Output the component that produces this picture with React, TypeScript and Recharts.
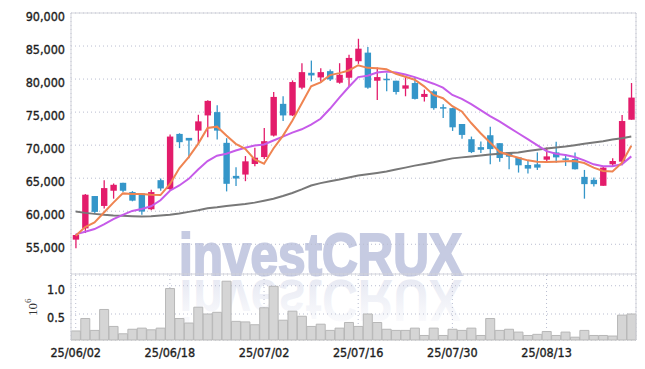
import React from 'react';
import {
  ComposedChart,
  BarChart,
  Bar,
  Line,
  XAxis,
  YAxis,
  CartesianGrid,
  ReferenceLine,
} from 'recharts';

const dates = [
  '25/06/02', '25/06/04', '25/06/05', '25/06/09', '25/06/10', '25/06/11', '25/06/12', '25/06/13', '25/06/16', '25/06/17',
  '25/06/18', '25/06/19', '25/06/20', '25/06/23', '25/06/24', '25/06/25', '25/06/26', '25/06/27', '25/06/30', '25/07/01',
  '25/07/02', '25/07/03', '25/07/04', '25/07/07', '25/07/08', '25/07/09', '25/07/10', '25/07/11', '25/07/14', '25/07/15',
  '25/07/16', '25/07/17', '25/07/18', '25/07/21', '25/07/22', '25/07/23', '25/07/24', '25/07/25', '25/07/28', '25/07/29',
  '25/07/30', '25/07/31', '25/08/01', '25/08/04', '25/08/05', '25/08/06', '25/08/07', '25/08/08', '25/08/11', '25/08/12',
  '25/08/13', '25/08/14', '25/08/18', '25/08/19', '25/08/20', '25/08/21', '25/08/22', '25/08/25', '25/08/26', '25/08/27',
];

const opens = [
  55700, 57400, 62300, 60800, 63100, 64300, 62900, 62700, 60300, 64700,
  63350, 71700, 71100, 72200, 74500, 75000, 70350, 65350, 65550, 67150,
  68200, 71450, 76250, 74500, 78700, 80950, 80250, 81200, 79450, 80200,
  82700, 84000, 79750, 80050, 79750, 78550, 79400, 77300, 78150, 75750,
  75600, 73200, 70900, 69700, 71500, 70300, 68900, 68150, 67000, 67100,
  67800, 68900, 68000, 67900, 65200, 64750, 63850, 67100, 67500, 73850,
];
const highs = [
  56500, 62600, 62300, 64700, 64200, 64300, 63050, 62700, 63250, 64950,
  71600, 71800, 71100, 74600, 76800, 76050, 71050, 66650, 68350, 69600,
  72600, 78050, 77400, 79800, 82400, 82800, 81650, 81450, 82400, 83700,
  86100, 84850, 81750, 80900, 79750, 80400, 80150, 78400, 78400, 76200,
  75650, 73200, 71300, 70550, 72800, 70300, 68900, 68150, 67600, 68900,
  69650, 70500, 68650, 68900, 66250, 65100, 66750, 68000, 74550, 79400,
];
const lows = [
  54400, 56700, 59650, 60400, 61900, 62900, 61500, 59450, 60150, 63100,
  63100, 69550, 68000, 70200, 71200, 70850, 63000, 63800, 64550, 66800,
  67900, 71300, 73650, 74400, 78450, 79650, 79450, 79700, 79300, 78800,
  82300, 78550, 76850, 78150, 77650, 77400, 76900, 76600, 75350, 74100,
  72150, 70950, 68800, 68800, 67100, 67500, 66350, 65850, 65700, 66250,
  67350, 67350, 66850, 66300, 61900, 63750, 63850, 66750, 66950, 73850,
];
const closes = [
  56400, 62500, 59900, 63500, 64000, 63100, 61600, 59950, 62900, 63450,
  71300, 70450, 70700, 73600, 76700, 72200, 64150, 64950, 67550, 68100,
  70600, 77300, 74500, 79550, 81050, 80550, 81050, 79950, 80650, 83200,
  84600, 78700, 80300, 79900, 78050, 79050, 77000, 77750, 75600, 75550,
  72700, 71550, 68950, 69300, 69400, 68050, 68250, 66950, 66450, 66600,
  68300, 68150, 67800, 66350, 64100, 64100, 66600, 67600, 73650, 77200,
];
// volume, millions of shares
const volumes = [
  0.2, 0.42, 0.21, 0.58, 0.28, 0.15, 0.23, 0.25, 0.22, 0.25,
  0.95, 0.42, 0.34, 0.62, 0.5, 0.53, 1.08, 0.37, 0.36, 0.31,
  0.61, 0.99, 0.39, 0.55, 0.46, 0.28, 0.32, 0.21, 0.25, 0.35,
  0.28, 0.5, 0.35, 0.23, 0.21, 0.21, 0.25, 0.12, 0.25, 0.12,
  0.23, 0.21, 0.25, 0.12, 0.42, 0.21, 0.23, 0.18, 0.12, 0.14,
  0.19, 0.12, 0.18, 0.09, 0.21, 0.12, 0.12, 0.11, 0.48, 0.5,
];
const ma5 = [
  56300, 57600, 58300, 59800, 61300, 62700, 62600, 62600, 62500, 62450,
  64100, 66500, 68200, 70200, 72600, 72800, 71450, 70200, 69450, 67850,
  67200, 69500, 71400, 73700, 76300, 78900, 79500, 80600, 80900, 81300,
  82100, 81700, 81650, 81500, 80800, 80350, 79900, 78900, 77600, 77100,
  75900, 75100, 73350, 71800, 70400, 69000, 68500, 68100, 67700, 67500,
  67450, 67500, 67550, 67600, 67300, 66600, 66100, 66000, 67300, 69900,
];
const ma20 = [
  56500, 56900, 57300, 58000, 58800, 59450, 60050, 60350, 60750, 61650,
  63100, 63900, 64900, 66300, 67600, 68400, 68700, 69200, 69600, 69950,
  70100, 70700, 71300, 71900, 72400, 73100, 74000, 75500, 77200, 78800,
  80300, 80500, 81000, 81150, 81000, 80700, 80300, 79800, 79300, 78700,
  77600, 77000, 76200, 75300, 74400, 73600, 72700, 71800, 70900, 70000,
  69100, 68700, 68500, 68200, 67700, 67100, 66800, 66800, 67100, 68300,
];
const ma60 = [
  59950, 59750, 59600, 59450, 59350, 59300, 59250, 59200, 59250, 59350,
  59450, 59650, 59900, 60150, 60450, 60600, 60800, 60950, 61100, 61300,
  61600, 61900, 62300, 62750, 63300, 63900, 64250, 64550, 64800, 65100,
  65400, 65600, 65800, 66000, 66300, 66600, 66900, 67150, 67400, 67700,
  68000, 68150, 68300, 68450, 68600, 68700, 68800, 68900, 69100, 69300,
  69500, 69650, 69800, 70000, 70200, 70400, 70600, 70850, 71050, 71300,
];
const priceTicks = [55000, 60000, 65000, 70000, 75000, 80000, 85000, 90000];
const volumeTicks = [0.5, 1.0];

const data = dates.map((date, i) => ({
  date,
  open: opens[i],
  high: highs[i],
  low: lows[i],
  close: closes[i],
  volume: volumes[i],
  ma5: ma5[i],
  ma20: ma20[i],
  ma60: ma60[i],
}));

const UP = '#e31c6b';
const DOWN = '#3596c9';
const GRID = '#b9bdd0';
const BORDER = '#d2d3da';
const MARK = '#c6cbe2';
const FONT = "'DejaVu Sans Condensed', 'Liberation Sans Narrow', 'Noto Sans', sans-serif";

const Candle = (props: any) => {
  const { x, y, width, height, payload } = props;
  const { open, close, high, low } = payload;
  const color = close >= open ? UP : DOWN;
  const top = Math.min(y, y + height);
  const h = Math.abs(height);
  const span = high - low || 1;
  const yOf = (v: number) => top + ((high - v) / span) * h;
  const cx = x + width / 2;
  const bTop = yOf(Math.max(open, close));
  const bBot = yOf(Math.min(open, close));
  return (
    <g>
      <line x1={cx} x2={cx} y1={top} y2={top + h} stroke={color} strokeWidth={1.3} />
      <rect x={cx - 3.2} y={bTop} width={6.4} height={Math.max(bBot - bTop, 1.5)} fill={color} />
    </g>
  );
};

const YTick = ({ x, y, payload, digits }: any) => (
  <text x={x} y={y} dy={8} textAnchor="end" fill="#1e1e1e" stroke="#1e1e1e" strokeWidth={0.35}
    fontSize={12.5} fontFamily={FONT}>
    {digits ? payload.value.toFixed(digits) : payload.value.toLocaleString('en-US')}
  </text>
);

const DateTick = ({ x, y, payload }: any) => (
  <text x={x} y={y} dy={9} textAnchor="middle" fill="#1e1e1e" stroke="#1e1e1e" strokeWidth={0.35}
    fontSize={12.5} fontFamily={FONT}>
    {payload.value}
  </text>
);

export default function App() {
  return (
    <div style={{ position: 'absolute', left: 0, top: 0, width: 645, height: 369, background: '#fff' }}>
      {/* watermark with its reflection */}
      <svg width={645} height={369} style={{ position: 'absolute', left: 0, top: 0 }}>
        <defs>
          <linearGradient id="fade" x1="0" y1="0" x2="0" y2="1">
            <stop offset="0%" stopColor={MARK} stopOpacity={0} />
            <stop offset="100%" stopColor={MARK} stopOpacity={0.5} />
          </linearGradient>
        </defs>
        <text x={179} y={275} fontSize={60} fontWeight="bold" fontFamily="'Liberation Sans', Arial, sans-serif"
          textLength={283} lengthAdjust="spacingAndGlyphs" fill={MARK} stroke={MARK} strokeWidth={2.2}>
          investCRUX
        </text>
        <text x={179} y={275} transform="translate(0,555) scale(1,-1)" fontSize={60} fontWeight="bold"
          fontFamily="'Liberation Sans', Arial, sans-serif" textLength={283} lengthAdjust="spacingAndGlyphs"
          fill="url(#fade)">
          investCRUX
        </text>
      </svg>

      <div style={{ position: 'absolute', left: 0, top: 0 }}>
        <ComposedChart width={645} height={275} data={data} margin={{ top: 13, right: 0, bottom: 0, left: 0 }}>
          <CartesianGrid yAxisId="p" stroke={GRID} strokeDasharray="1 3" />
          <XAxis dataKey="date" interval={9} tick={false} tickLine={false} height={1} axisLine={{ stroke: BORDER }} />
          <YAxis yAxisId="p" domain={[50500, 90000]} ticks={priceTicks} width={71} tickSize={0} tickMargin={6}
            axisLine={{ stroke: BORDER }} tick={<YTick />} />
          <YAxis yAxisId="r" orientation="right" domain={[50500, 90000]} width={9} tick={false} tickLine={false}
            axisLine={{ stroke: BORDER }} />
          <ReferenceLine yAxisId="p" y={90000} stroke={BORDER} />
          <Line yAxisId="p" dataKey="ma60" stroke="#787878" strokeWidth={2} dot={false} isAnimationActive={false} />
          <Bar yAxisId="p" dataKey={(d: any) => [d.low, d.high]} shape={<Candle />} isAnimationActive={false} />
          <Line yAxisId="p" dataKey="ma20" stroke="#c65be9" strokeWidth={2} dot={false} isAnimationActive={false} />
          <Line yAxisId="p" dataKey="ma5" stroke="#ef8451" strokeWidth={2} dot={false} isAnimationActive={false} />
        </ComposedChart>
      </div>

      <div style={{ position: 'absolute', left: 0, top: 275 }}>
        <BarChart width={645} height={94} data={data} margin={{ top: 0, right: 0, bottom: 0, left: 0 }}
          barCategoryGap="4%">
          <CartesianGrid yAxisId="v" stroke={GRID} strokeDasharray="1 3" />
          <XAxis dataKey="date" interval={9} height={29} tickLine={false} axisLine={false} tick={<DateTick />} />
          <YAxis yAxisId="v" domain={[0.04, 1.19]} ticks={volumeTicks} width={71} tickSize={0} tickMargin={6}
            axisLine={{ stroke: BORDER }} tick={<YTick digits={1} />} />
          <YAxis yAxisId="r" orientation="right" domain={[0.04, 1.19]} width={9} tick={false} tickLine={false}
            axisLine={{ stroke: BORDER }} />
          <Bar yAxisId="v" dataKey="volume" fill="#d5d5d5" stroke="#b7b7b7" strokeWidth={1} isAnimationActive={false} />
        </BarChart>
      </div>

      <svg width={60} height={369} style={{ position: 'absolute', left: 0, top: 0 }}>
        <text transform="translate(37,316) rotate(-90)" fontSize={13} fill="#333"
          fontFamily="'Liberation Serif', 'DejaVu Serif', serif">
          10<tspan dy={-6} fontSize={9}>6</tspan>
        </text>
      </svg>
    </div>
  );
}
